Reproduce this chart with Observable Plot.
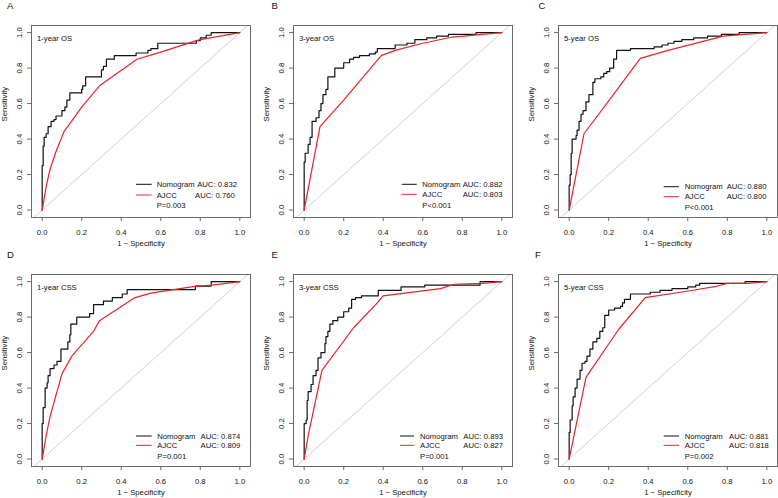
<!DOCTYPE html>
<html>
<head>
<meta charset="utf-8">
<script src="https://cdn.jsdelivr.net/npm/d3@7"></script>
<script src="https://cdn.jsdelivr.net/npm/@observablehq/plot@0.6"></script>
<style>
  html, body { margin: 0; padding: 0; background: #fff; }
  body { width: 778px; height: 498px; overflow: hidden; position: relative; font-family: "Liberation Sans", Arial, sans-serif; }
  .panel { position: absolute; }
  .panel svg { overflow: visible; }
  .letter { position: absolute; font-size: 9.5px; line-height: 1; color: #111; }
</style>
</head>
<body>
<script>
// ---------- DATA ----------
const panelLetters = ["A", "B", "C", "D", "E", "F"];
const panelTitles = ["1-year OS", "3-year OS", "5-year OS", "1-year CSS", "3-year CSS", "5-year CSS"];
const nomogramAUC = ["0.832", "0.882", "0.880", "0.874", "0.893", "0.881"];
const ajccAUC = ["0.760", "0.803", "0.800", "0.809", "0.827", "0.818"];
const pValues = ["P=0.003", "P<0.001", "P<0.001", "P=0.001", "P=0.001", "P=0.002"];
const seriesNames = ["Nomogram", "AJCC"];
const tickValues = [0, 0.2, 0.4, 0.6, 0.8, 1.0];
const xLabel = "1 \u2212 Specificity";
const yLabel = "Sensitivity";

// [1 - specificity, sensitivity]
const nomogramOS1 = [[0,0],[0,0.25],[0.005,0.36],[0.01,0.41],[0.02,0.43],[0.03,0.47],[0.045,0.50],[0.06,0.51],[0.07,0.53],[0.10,0.56],[0.115,0.58],[0.125,0.62],[0.14,0.66],[0.20,0.68],[0.205,0.70],[0.22,0.75],[0.30,0.79],[0.31,0.81],[0.325,0.85],[0.365,0.87],[0.475,0.885],[0.535,0.90],[0.55,0.91],[0.585,0.94],[0.78,0.955],[0.80,0.97],[0.83,0.985],[0.855,1],[1,1]];
const ajccOS1 = [[0,0],[0.02,0.13],[0.04,0.23],[0.07,0.33],[0.11,0.44],[0.20,0.58],[0.29,0.70],[0.48,0.85],[0.60,0.89],[0.78,0.955],[0.80,0.96],[1,1]];

const nomogramOS3 = [[0,0],[0,0.27],[0.005,0.32],[0.02,0.37],[0.03,0.41],[0.04,0.50],[0.06,0.52],[0.075,0.56],[0.085,0.60],[0.095,0.65],[0.11,0.68],[0.12,0.75],[0.155,0.80],[0.20,0.83],[0.23,0.85],[0.25,0.86],[0.28,0.87],[0.33,0.88],[0.36,0.89],[0.37,0.91],[0.46,0.93],[0.52,0.94],[0.56,0.96],[0.62,0.97],[0.67,0.98],[0.73,0.99],[0.87,1],[1,1]];
const ajccOS3 = [[0,0],[0.08,0.47],[0.20,0.62],[0.39,0.87],[0.46,0.90],[0.60,0.94],[0.75,0.975],[1,1]];

const nomogramOS5 = [[0,0],[0,0.14],[0.005,0.20],[0.01,0.32],[0.015,0.40],[0.035,0.42],[0.04,0.45],[0.05,0.50],[0.06,0.54],[0.07,0.56],[0.085,0.61],[0.10,0.65],[0.12,0.72],[0.13,0.74],[0.16,0.75],[0.175,0.77],[0.19,0.78],[0.205,0.80],[0.225,0.85],[0.24,0.90],[0.31,0.91],[0.43,0.92],[0.47,0.93],[0.50,0.94],[0.53,0.95],[0.57,0.96],[0.63,0.97],[0.70,0.98],[0.77,0.99],[0.86,1],[1,1]];
const ajccOS5 = [[0,0],[0.075,0.43],[0.20,0.615],[0.36,0.855],[0.50,0.90],[0.78,0.98],[1,1]];

const nomogramCSS1 = [[0,0],[0,0.20],[0.005,0.29],[0.015,0.40],[0.025,0.43],[0.03,0.47],[0.04,0.51],[0.06,0.53],[0.075,0.55],[0.095,0.62],[0.13,0.66],[0.14,0.70],[0.145,0.76],[0.175,0.80],[0.24,0.82],[0.26,0.87],[0.31,0.89],[0.355,0.91],[0.405,0.93],[0.43,0.955],[0.775,0.975],[0.855,1],[1,1]];
const ajccCSS1 = [[0,0],[0.02,0.13],[0.04,0.24],[0.10,0.48],[0.15,0.58],[0.26,0.72],[0.29,0.78],[0.47,0.91],[0.55,0.935],[0.78,0.975],[0.86,0.98],[1,1]];

const nomogramCSS3 = [[0,0],[0,0.20],[0.01,0.22],[0.015,0.33],[0.02,0.38],[0.035,0.42],[0.045,0.47],[0.06,0.50],[0.07,0.57],[0.085,0.60],[0.105,0.65],[0.11,0.69],[0.12,0.72],[0.13,0.76],[0.145,0.78],[0.17,0.80],[0.20,0.83],[0.225,0.85],[0.24,0.90],[0.26,0.91],[0.29,0.92],[0.375,0.95],[0.49,0.97],[0.61,0.98],[0.89,1],[1,1]];
const ajccCSS3 = [[0,0],[0.02,0.13],[0.09,0.50],[0.25,0.74],[0.37,0.88],[0.40,0.92],[0.69,0.96],[0.76,0.985],[0.90,0.99],[1,1]];

const nomogramCSS5 = [[0,0],[0,0.15],[0.005,0.22],[0.015,0.30],[0.02,0.35],[0.03,0.40],[0.04,0.45],[0.055,0.50],[0.065,0.54],[0.08,0.55],[0.09,0.58],[0.105,0.62],[0.12,0.66],[0.14,0.68],[0.155,0.72],[0.17,0.74],[0.18,0.81],[0.20,0.84],[0.23,0.85],[0.26,0.86],[0.27,0.88],[0.28,0.90],[0.31,0.93],[0.41,0.94],[0.46,0.95],[0.52,0.96],[0.60,0.97],[0.64,0.98],[0.66,0.99],[0.89,1],[1,1]];
const ajccCSS5 = [[0,0],[0.085,0.46],[0.25,0.73],[0.385,0.91],[0.62,0.95],[0.75,0.975],[0.80,0.99],[0.90,0.99],[1,1]];

const nomogramCurves = [nomogramOS1, nomogramOS3, nomogramOS5, nomogramCSS1, nomogramCSS3, nomogramCSS5];
const ajccCurves = [ajccOS1, ajccOS3, ajccOS5, ajccCSS1, ajccCSS3, ajccCSS5];

// ---------- LAYOUT / STYLE ----------
const FONT = "'Liberation Sans', Arial, Helvetica, sans-serif";
const FS = 7.7;
const xDomain = [-0.054, 1.054];
const yDomain = [-0.042, 1.04];
const colLeft = [0, 262, 527];
const colWidth = [262, 262, 251];
const colMarginRight = [12, 12, 1];
const rowTop = [0, 249];
const rowHeight = [250, 249];
const rowMarginBottom = [33, 32];
const letterPos = [[7, 1], [271.5, 1], [538.5, 1], [7, 249.5], [271.5, 249.5], [535, 249.5]];
// legend layout relative to frame right / bottom
const legendLayout = [
  {line: [-114, -98.3], text: -93.3, auc: [-52.8, -55], rows: [-32.7, -22, -11.3]},
  {line: [-110.3, -95.3], text: -89.7, auc: [-49.3, -49.3], rows: [-32.7, -22.7, -11.3]},
  {line: [-113.3, -98], text: -92.3, auc: [-50.3, -50.3], rows: [-30.3, -20.3, -9.7]},
  {line: [-114, -98.3], text: -92.7, auc: [-49.4, -49.4], rows: [-30, -20.7, -10]},
  {line: [-112, -98], text: -92, auc: [-48.7, -48.7], rows: [-30, -20.7, -10]},
  {line: [-113.3, -98], text: -92.3, auc: [-48, -48], rows: [-30, -20.7, -10]}
];
const NOMO_COLOR = "#111111";
const AJCC_COLOR = "#e5242a";
const BOX_COLOR = "#6a6a6a";

function legendMark(i) {
  const L = legendLayout[i];
  return (index, scales, values, dims) => {
    const R = dims.width - dims.marginRight;
    const B = dims.height - dims.marginBottom;
    const g = d3.create("svg:g")
      .attr("font-family", FONT)
      .attr("font-size", FS)
      .attr("text-anchor", "start")
      .attr("fill", "#111");
    const colors = [NOMO_COLOR, AJCC_COLOR];
    const aucs = [nomogramAUC[i], ajccAUC[i]];
    for (let r = 0; r < 2; r++) {
      g.append("line")
        .attr("x1", R + L.line[0]).attr("x2", R + L.line[1])
        .attr("y1", B + L.rows[r]).attr("y2", B + L.rows[r])
        .attr("stroke", colors[r]).attr("stroke-width", 1);
      g.append("text").attr("x", R + L.text).attr("y", B + L.rows[r]).attr("dy", "0.35em")
        .attr("text-anchor", "start").text(seriesNames[r]);
      g.append("text").attr("x", R + L.auc[r]).attr("y", B + L.rows[r]).attr("dy", "0.35em")
        .attr("text-anchor", "start").text("AUC: " + aucs[r]);
    }
    g.append("text").attr("x", R + L.text).attr("y", B + L.rows[2]).attr("dy", "0.35em")
      .attr("text-anchor", "start").text(pValues[i]);
    return g.node();
  };
}

const fmt = d3.format(".1f");

for (let i = 0; i < 6; i++) {
  const col = i % 3, row = Math.floor(i / 3);
  const chart = Plot.plot({
    width: colWidth[col],
    height: rowHeight[row],
    marginLeft: 31,
    marginRight: colMarginRight[col],
    marginTop: 25,
    marginBottom: rowMarginBottom[row],
    x: {domain: xDomain},
    y: {domain: yDomain},
    style: {fontFamily: FONT, fontSize: FS + "px", color: "#111", background: "transparent", overflow: "visible"},
    marks: [
      Plot.line(xDomain.map(v => [v, v]), {x: d => d[0], y: d => d[1], stroke: "#c4c4c4", strokeWidth: 0.8, clip: true}),
      Plot.line(nomogramCurves[i], {x: d => d[0], y: d => d[1], curve: "step-after", stroke: NOMO_COLOR, strokeWidth: 1.2}),
      Plot.line(ajccCurves[i], {x: d => d[0], y: d => d[1], stroke: AJCC_COLOR, strokeWidth: 1.2}),
      Plot.frame({stroke: BOX_COLOR, strokeWidth: 1}),
      Plot.axisX({ticks: tickValues, tickFormat: fmt, tickSize: 4, tickPadding: 8, label: null, stroke: BOX_COLOR}),
      Plot.axisY({ticks: tickValues, tickFormat: fmt, tickSize: 4, tickRotate: -90, tickPadding: 6, label: null, stroke: BOX_COLOR}),
      Plot.text([xLabel], {text: d => d, frameAnchor: "bottom", dy: 28, fill: "#111"}),
      Plot.text([yLabel], {text: d => d, frameAnchor: "left", rotate: -90, dx: -27, fill: "#111"}),
      Plot.text([panelTitles[i]], {text: d => d, frameAnchor: "top-left", textAnchor: "start", dx: 5.5, dy: 10, fill: "#111"}),
      legendMark(i)
    ]
  });
  const div = document.createElement("div");
  div.className = "panel";
  div.style.left = colLeft[col] + "px";
  div.style.top = rowTop[row] + "px";
  div.appendChild(chart);
  document.body.appendChild(div);

  const letter = document.createElement("div");
  letter.className = "letter";
  letter.style.left = letterPos[i][0] + "px";
  letter.style.top = letterPos[i][1] + "px";
  letter.textContent = panelLetters[i];
  document.body.appendChild(letter);
}
</script>
</body>
</html>
